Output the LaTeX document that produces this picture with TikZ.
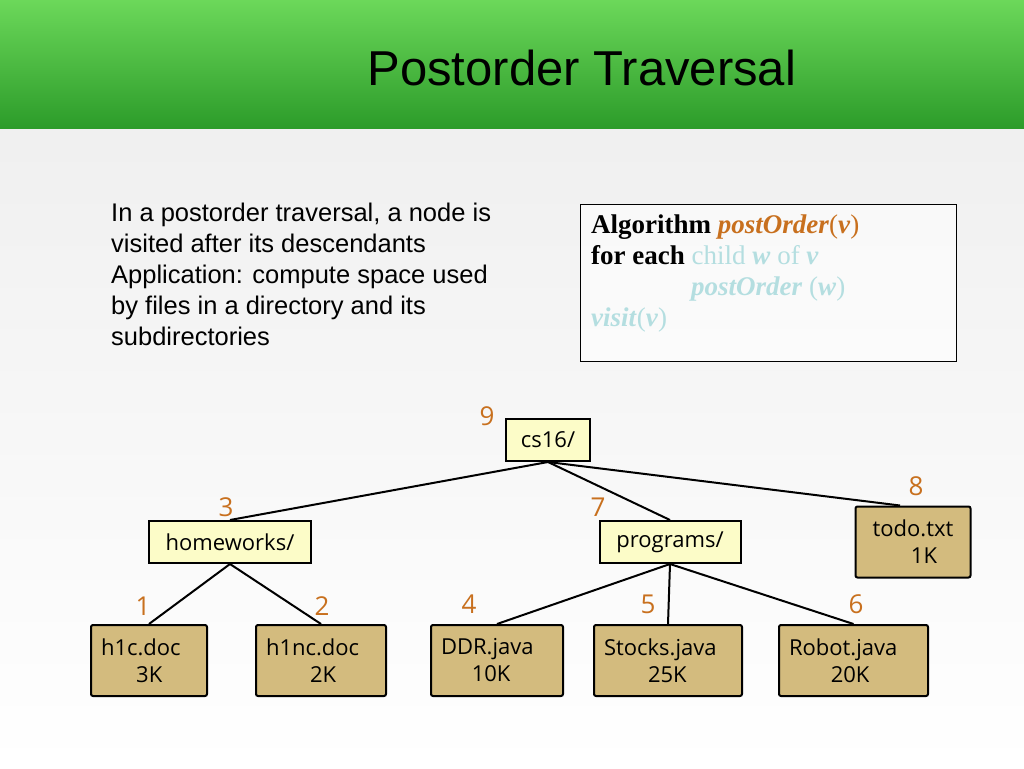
\documentclass[tikz,border=0pt]{standalone}
\usepackage{fontspec}
\setmainfont{Liberation Serif}
\setsansfont{Liberation Sans}
\newfontfamily\treefont{Open Sans}
\usetikzlibrary{positioning}
\definecolor{numorange}{HTML}{C8701E}
\definecolor{dirfill}{HTML}{FCFCC8}
\definecolor{filefill}{HTML}{D3BB7E}
\definecolor{paleblue}{HTML}{B4DEE0}
\definecolor{headtop}{HTML}{6CD85A}
\definecolor{headbot}{HTML}{2C9C2A}
\tikzset{
  dir/.style={draw,line width=2pt,fill=dirfill,font=\treefont\fontsize{22}{24}\selectfont,minimum height=42pt,inner xsep=6pt},
  file/.style={draw,line width=2pt,fill=filefill,rounded corners=2pt,font=\treefont\fontsize{22}{27}\selectfont,align=left,minimum height=71pt,anchor=north west,inner xsep=10pt},
  num/.style={text=numorange,font=\treefont\fontsize{26}{26}\selectfont},
  edge/.style={line width=2pt}
}
\begin{document}
\begin{tikzpicture}[x=1pt,y=-1pt]
\useasboundingbox (0,0) rectangle (1024,768);
\shade[top color=white!94!black,bottom color=white] (0,128) rectangle (1024,768);
\shade[top color=headtop,bottom color=headbot] (0,0) rectangle (1024,128);
\node[anchor=west,font=\sffamily\fontsize{49}{49}\selectfont] (title) at (364,68) {Postorder Traversal};
%
\node[anchor=north west,align=left,font=\sffamily\fontsize{25.5}{31}\selectfont,inner sep=0pt] (txt) at (111,203)
  {In a postorder traversal, a node is\\visited after its descendants\\Application: compute space used\\by files in a directory and its\\subdirectories};
\node[draw,fill=white,fill opacity=0.6,text opacity=1,anchor=north west,minimum width=376pt,minimum height=157pt] (algbox) at (580,204) {};
\node[anchor=north west,align=left,font=\fontsize{27}{31}\selectfont,inner sep=0pt] (alg) at (591,215)
  {\textbf{Algorithm} \textcolor{numorange}{\textbf{\textit{postOrder}}(\textbf{\textit{v}})}\\
   \textbf{for each} \textcolor{paleblue}{child \textbf{\textit{w}} of \textbf{\textit{v}}}\\
   \hspace*{100pt}\textcolor{paleblue}{\textbf{\textit{postOrder}} (\textbf{\textit{w}})}\\
   \textcolor{paleblue}{\textbf{\textit{visit}}(\textbf{\textit{v}})}};
%
\node[dir,minimum width=84pt] (cs) at (548,440) {cs16/};
\node[dir,minimum width=162pt] (hw) at (230,542) {homeworks/};
\node[dir,minimum width=141pt] (prog) at (670,542) {programs/};
\node[file,minimum width=115pt,align=center,anchor=center] (todo) at (913,542) {todo.txt\\\hspace*{1em}1K};
\node[file,text width=96pt] (h1c) at (90,624) {h1c.doc\\\hspace*{1.6em}3K};
\node[file,text width=110pt] (h1nc) at (255,624) {h1nc.doc\\\hspace*{2em}2K};
\node[file,text width=112pt] (ddr) at (430,624) {DDR.java\\\hspace*{1.4em}10K};
\node[file,text width=128pt] (stocks) at (593,624) {Stocks.java\\\hspace*{2em}25K};
\node[file,text width=129pt] (robot) at (778,624) {Robot.java\\\hspace*{1.9em}20K};
%
\draw[edge] (cs.south) -- (hw.north);
\draw[edge] (cs.south) -- (prog.north);
\draw[edge] (cs.south) -- ([xshift=-13pt]todo.north);
\draw[edge] (hw.south) -- (h1c.north);
\draw[edge] (hw.south) -- (h1nc.north);
\draw[edge] (prog.south) -- (ddr.north);
\draw[edge] (prog.south) -- (stocks.north);
\draw[edge] (prog.south) -- (robot.north);
%
\node[num] (n9) at (487,416) {9};
\node[num] (n3) at (226,507) {3};
\node[num] (n7) at (598,507) {7};
\node[num] (n8) at (916,486) {8};
\node[num] (n1) at (143,606) {1};
\node[num] (n2) at (322,606) {2};
\node[num] (n4) at (469,604) {4};
\node[num] (n5) at (648,604) {5};
\node[num] (n6) at (856,604) {6};
\end{tikzpicture}
\end{document}
